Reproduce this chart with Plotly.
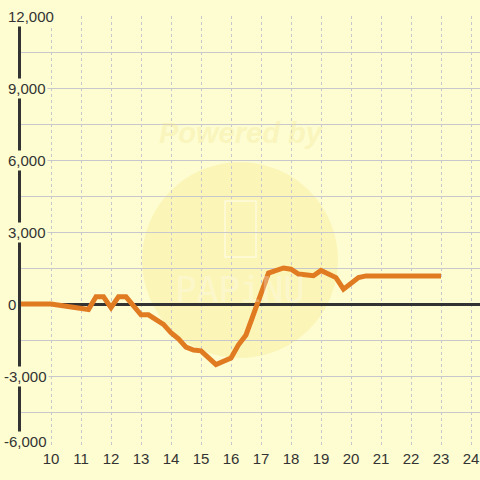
import plotly.graph_objects as go

# ---- data ----
hours = [9, 10, 11.25, 11.5, 11.75, 12.0, 12.25, 12.5, 13.0, 13.25, 13.75, 14.0,
         14.25, 14.5, 14.75, 15.0, 15.5, 15.75, 16.0, 16.25, 16.5, 17.25, 17.75,
         18.0, 18.25, 18.75, 19.0, 19.5, 19.75, 20.25, 20.5, 23.0]
values = [0, 0, -230, 300, 300, -150, 300, 300, -450, -450, -850, -1200,
          -1450, -1800, -1920, -1950, -2520, -2400, -2250, -1700, -1290, 1290, 1500,
          1450, 1250, 1180, 1400, 1100, 620, 1100, 1170, 1170]
x_ticks = list(range(10, 25))
y_ticks = [12000, 9000, 6000, 3000, 0, -3000, -6000]

BG = "#fdfdd1"
TXT = "#333333"
L, R, T, B = 21, 0, 16, 32
PW = 480 - L - R
PH = 480 - T - B

def px_to_paper_x(px):
    return (px - L) / PW

def py_to_paper_y(py):
    return (480 - B - py) / PH

fig = go.Figure()
fig.add_trace(go.Scatter(
    x=hours, y=values, mode="lines",
    line=dict(color="#e07b22", width=5),
    hoverinfo="skip", cliponaxis=False,
))

shapes = [
    dict(type="circle", xref="paper", yref="paper", layer="below",
         x0=px_to_paper_x(142), x1=px_to_paper_x(338),
         y0=py_to_paper_y(358), y1=py_to_paper_y(162),
         fillcolor="rgba(250,226,120,0.27)", line=dict(width=0)),
    dict(type="rect", xref="paper", yref="paper", layer="below",
         x0=px_to_paper_x(225), x1=px_to_paper_x(256),
         y0=py_to_paper_y(257), y1=py_to_paper_y(201),
         fillcolor="rgba(0,0,0,0)", line=dict(color="rgba(255,255,255,0.5)", width=1.5)),
]

annotations = [
    dict(text="<b><i>Powered by</i></b>", xref="paper", yref="paper",
         x=px_to_paper_x(241), y=py_to_paper_y(133), showarrow=False,
         xanchor="center", yanchor="middle",
         font=dict(family="Liberation Sans", size=29, color="rgba(240,225,140,0.3)")),
    dict(text="PAPiNU", xref="paper", yref="paper",
         x=px_to_paper_x(240), y=py_to_paper_y(289), showarrow=False,
         xanchor="center", yanchor="middle",
         font=dict(family="DejaVu Sans Mono", size=36, color="rgba(255,255,255,0.3)")),
]

for v in y_ticks:
    left_px = 2 if v < 0 else 6
    annotations.append(dict(
        text=f"{v:,}", xref="paper", yref="y", x=px_to_paper_x(left_px), y=v,
        xanchor="left", yanchor="middle", showarrow=False,
        yshift=7 if v == min(y_ticks) else 0,
        bgcolor=BG, borderpad=1,
        font=dict(family="Liberation Sans", size=15, color=TXT),
    ))

fig.update_layout(
    width=480, height=480,
    margin=dict(l=L, r=R, t=T, b=B, autoexpand=False),
    paper_bgcolor=BG, plot_bgcolor=BG,
    showlegend=False,
    shapes=shapes, annotations=annotations,
    xaxis=dict(
        range=[9, 24.3], tickvals=x_ticks, ticktext=[str(t) for t in x_ticks],
        showgrid=True, gridcolor="#c8c8cc", gridwidth=1, griddash="3px,3px",
        zeroline=False, showline=False, ticks="", automargin=False,
        tickfont=dict(family="Liberation Sans", size=15, color=TXT),
        fixedrange=True,
    ),
    yaxis=dict(
        range=[-6000, 12000], tick0=0, dtick=1500,
        showgrid=True, gridcolor="#c8c8cc", gridwidth=1,
        zeroline=True, zerolinecolor="#333333", zerolinewidth=3,
        showline=True, linecolor="#333333", linewidth=3,
        showticklabels=False, ticks="", automargin=False,
        fixedrange=True,
    ),
)

fig.write_html(
    "out.html",
    config={"displayModeBar": False},
    post_script="document.body.style.margin='0';document.body.style.overflow='hidden';",
)
